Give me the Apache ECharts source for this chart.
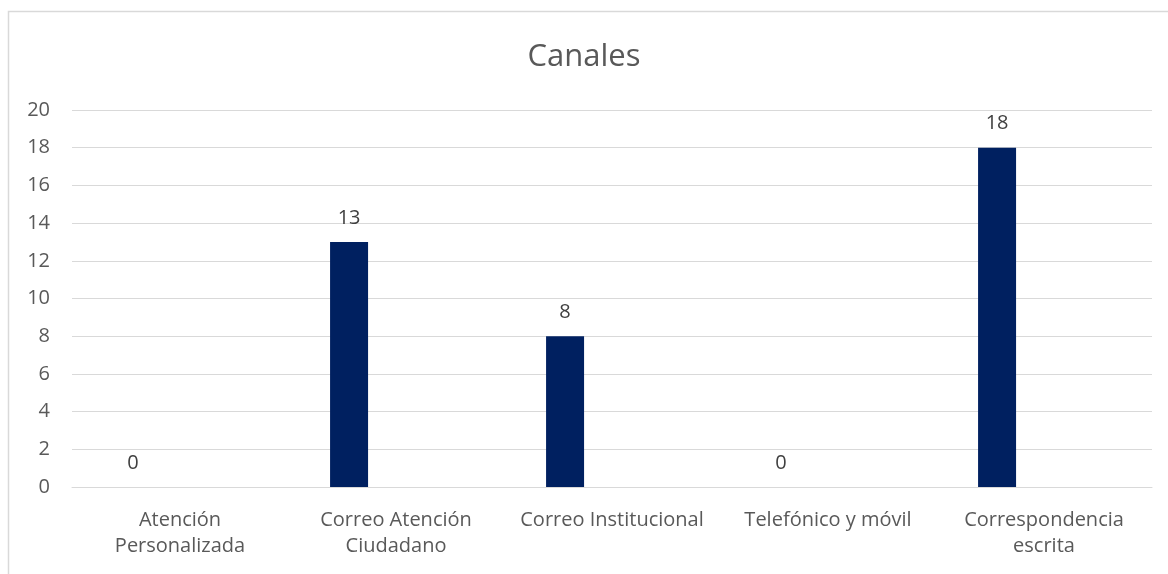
<!DOCTYPE html>
<html>
<head>
<meta charset="utf-8">
<script src="https://cdn.jsdelivr.net/npm/echarts@6/dist/echarts.min.js"></script>
<style>
html,body{margin:0;padding:0;background:#fff;}
#c{width:1168px;height:574px;}
</style>
</head>
<body>
<div id="c"></div>
<script>
const titleText = 'Canales';
const categories = ['Atención Personalizada', 'Correo Atención Ciudadano', 'Correo Institucional', 'Telefónico y móvil', 'Correspondencia escrita'];
const tickLabels = ['Atención\nPersonalizada', 'Correo Atención\nCiudadano', 'Correo Institucional', 'Telefónico y móvil', 'Correspondencia\nescrita'];
const values = [0, 13, 8, 0, 18];
const emptySeries = ['-', '-', '-', '-', '-'];
const yMin = 0, yMax = 20, yStep = 2;

const FONT = '"Open Sans", "Noto Sans", sans-serif';
const chart = echarts.init(document.getElementById('c'), null, {renderer: 'canvas'});
chart.setOption({
  backgroundColor: '#ffffff',
  animation: false,
  title: {
    text: titleText,
    left: 'center',
    top: 37,
    textStyle: {fontFamily: FONT, fontSize: 31, fontWeight: 'normal', color: '#595959'}
  },
  graphic: [{
    type: 'rect',
    shape: {x: 8.5, y: 11.5, width: 1300, height: 700},
    style: {fill: 'none', stroke: '#d9d9d9', lineWidth: 1.5},
    silent: true
  }],
  grid: {left: 72, right: 16, top: 110, bottom: 87, containLabel: false, outerBoundsMode: 'none'},
  xAxis: {
    type: 'category',
    data: categories,
    axisLine: {show: true, lineStyle: {color: '#d9d9d9', width: 1}},
    axisTick: {show: false},
    axisLabel: {
      interval: 0,
      margin: 20,
      lineHeight: 26,
      fontFamily: FONT,
      fontSize: 20,
      color: '#595959',
      formatter: (v, i) => tickLabels[i]
    }
  },
  yAxis: {
    type: 'value',
    min: yMin,
    max: yMax,
    interval: yStep,
    axisLine: {show: false},
    axisTick: {show: false},
    splitLine: {lineStyle: {color: '#d9d9d9', width: 1}},
    axisLabel: {margin: 22, fontFamily: FONT, fontSize: 20, color: '#595959'}
  },
  series: [{
    name: 'Canales',
    type: 'bar',
    data: values,
    barWidth: 38,
    barGap: '147%',
    itemStyle: {color: '#002060'},
    label: {
      show: true,
      position: 'top',
      distance: 14,
      fontFamily: FONT,
      fontSize: 20,
      color: '#404040'
    }
  }, {
    name: 'vacío',
    type: 'bar',
    data: emptySeries,
    barWidth: 38,
    itemStyle: {color: '#002060'}
  }]
});
</script>
</body>
</html>
